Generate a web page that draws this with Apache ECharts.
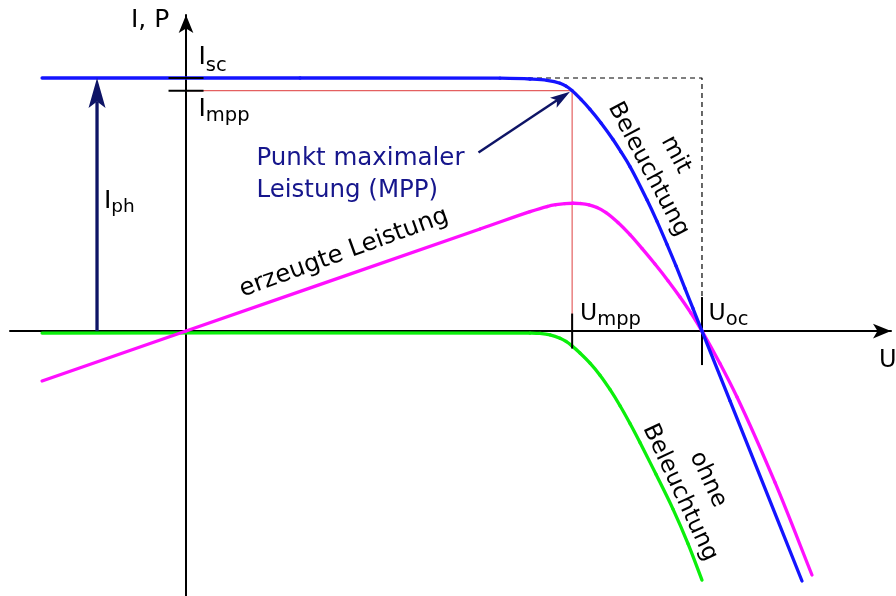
<!DOCTYPE html>
<html>
<head>
<meta charset="utf-8">
<script src="https://cdn.jsdelivr.net/npm/echarts@6/dist/echarts.min.js"></script>
<style>
  html, body { margin: 0; padding: 0; background: #fff; }
  #chart { width: 896px; height: 596px; }
</style>
</head>
<body>
<div id="chart"></div>
<script>
// Characteristic points of the cell
const U_OC = 0.60;   // open-circuit voltage
const U_MPP = 0.449; // voltage at maximum power point
const I_SC = 1.0;    // short-circuit current
const I_MPP = 0.95;  // current at maximum power point

// I-U curve with illumination
const uIllum = [-0.1674, 0.1326, 0.3651, 0.40, 0.4198, 0.4349, 0.4419, 0.4488, 0.4593, 0.4698, 0.4826, 0.4965, 0.5058, 0.5163, 0.536, 0.5477, 0.5593, 0.5698, 0.5802, 0.5895, 0.60, 0.6326, 0.7163];
const iIllum = [1.0, 1.0, 0.9992, 0.996, 0.9909, 0.9794, 0.968, 0.9506, 0.9154, 0.8763, 0.8225, 0.7569, 0.7083, 0.6498, 0.5186, 0.4336, 0.3427, 0.2573, 0.1684, 0.0893, 0.0, -0.2763, -0.9877];

// I-U curve without illumination (dark diode curve)
const uDark = [-0.1674, 0.40, 0.4116, 0.4233, 0.4349, 0.4419, 0.4488, 0.4581, 0.4698, 0.4814, 0.493, 0.5047, 0.5163, 0.5279, 0.5465, 0.5663, 0.5837, 0.60];
const iDark = [-0.0079, -0.0079, -0.0095, -0.015, -0.0281, -0.0411, -0.0585, -0.0866, -0.1269, -0.1743, -0.2308, -0.2953, -0.3656, -0.4407, -0.566, -0.7036, -0.8399, -0.9842];

// generated power
const uPower = [-0.1674, 0, 0.3419, 0.40, 0.4198, 0.4302, 0.4407, 0.45, 0.4593, 0.4686, 0.4779, 0.4884, 0.5023, 0.5163, 0.5302, 0.5453, 0.5605, 0.5744, 0.5872, 0.60, 0.6209, 0.6407, 0.6849, 0.7279];
const pPower = [-0.1976, 0, 0.4032, 0.4719, 0.4921, 0.4992, 0.5036, 0.5051, 0.504, 0.4988, 0.4881, 0.4684, 0.4292, 0.381, 0.3265, 0.2648, 0.1992, 0.1348, 0.0711, 0, -0.1281, -0.2605, -0.5984, -0.964];

// photocurrent arrow position and MPP pointer start
const U_IPH = -0.1035;
const mppPointerFrom = [0.3401, 0.7055];

const zip = (xs, ys) => xs.map((x, i) => [x, ys[i]]);

const FONT = '"DejaVu Sans", Verdana, sans-serif';
const NAVY = '#0e1466';
const NAVY_TEXT = '#16168c';

const chart = echarts.init(document.getElementById('chart'), null, { renderer: 'canvas' });

// smooth curve through the points: each item draws the cubic segment to the next point
// (centripetal Catmull-Rom, converted to Bezier control points in pixel space)
function splineSeries(name, xs, ys, color, width) {
  const pts = zip(xs, ys);
  const n = pts.length;
  return {
    type: 'custom', name: name, data: pts, z: 2, clip: true,
    renderItem: function (params, api) {
      const i = params.dataIndex;
      if (i >= n - 1) return null;
      const p1 = api.coord(pts[i]);
      const p2 = api.coord(pts[i + 1]);
      const p0 = i > 0 ? api.coord(pts[i - 1]) : [2 * p1[0] - p2[0], 2 * p1[1] - p2[1]];
      const p3 = i < n - 2 ? api.coord(pts[i + 2]) : [2 * p2[0] - p1[0], 2 * p2[1] - p1[1]];
      const d = (a, b) => Math.max(1e-6, Math.sqrt(Math.hypot(b[0] - a[0], b[1] - a[1])));
      const d1 = d(p0, p1), d2 = d(p1, p2), d3 = d(p2, p3);
      const c1 = [0, 1].map(k => (d1 * d1 * p2[k] - d2 * d2 * p0[k] + (2 * d1 * d1 + 3 * d1 * d2 + d2 * d2) * p1[k]) / (3 * d1 * (d1 + d2)));
      const c2 = [0, 1].map(k => (d3 * d3 * p1[k] - d2 * d2 * p3[k] + (2 * d3 * d3 + 3 * d3 * d2 + d2 * d2) * p2[k]) / (3 * d3 * (d3 + d2)));
      return {
        type: 'bezierCurve',
        shape: { x1: p1[0], y1: p1[1], x2: p2[0], y2: p2[1], cpx1: c1[0], cpy1: c1[1], cpx2: c2[0], cpy2: c2[1] },
        style: { stroke: color, lineWidth: width, fill: null, lineCap: 'round' }
      };
    }
  };
}

// arrow drawn in pixel space between two data points
function arrowRenderer(headLen, headWidth, lineWidth, color) {
  return function (params, api) {
    const p1 = api.coord([api.value(0), api.value(1)]);
    const p2 = api.coord([api.value(2), api.value(3)]);
    const dx = p2[0] - p1[0], dy = p2[1] - p1[1];
    const len = Math.hypot(dx, dy);
    const ux = dx / len, uy = dy / len;
    const nx = -uy, ny = ux;
    const bx = p2[0] - ux * headLen, by = p2[1] - uy * headLen;
    const notch = [p2[0] - ux * headLen * 0.78, p2[1] - uy * headLen * 0.78];
    return {
      type: 'group',
      children: [
        { type: 'line', shape: { x1: p1[0], y1: p1[1], x2: notch[0], y2: notch[1] },
          style: { stroke: color, lineWidth: lineWidth } },
        { type: 'polygon', shape: { points: [
            [p2[0], p2[1]],
            [bx + nx * headWidth / 2, by + ny * headWidth / 2],
            notch,
            [bx - nx * headWidth / 2, by - ny * headWidth / 2]
          ] }, style: { fill: color } }
      ]
    };
  };
}

// short black tick across an axis
function tickRenderer(half, horizontal) {
  return function (params, api) {
    const p = api.coord([api.value(0), api.value(1)]);
    const shape = horizontal
      ? { x1: p[0] - half, y1: p[1], x2: p[0] + half, y2: p[1] }
      : { x1: p[0], y1: p[1] - half, x2: p[0], y2: p[1] + half };
    return { type: 'line', shape: shape, style: { stroke: '#000', lineWidth: 2 } };
  };
}

const option = {
  animation: false,
  backgroundColor: '#fff',
  grid: { left: 10, right: 5, top: 15, bottom: 0, containLabel: false, outerBoundsMode: 'none' },
  xAxis: {
    type: 'value', min: -0.2047, max: 0.8198,
    axisLine: { onZero: true, symbol: ['none', 'arrow'], symbolSize: [11, 18],
                lineStyle: { color: '#000', width: 2 } },
    axisTick: { show: false }, axisLabel: { show: false }, splitLine: { show: false }
  },
  yAxis: {
    type: 'value', min: -1.047, max: 1.249,
    axisLine: { onZero: true, symbol: ['none', 'arrow'], symbolSize: [11, 18],
                lineStyle: { color: '#000', width: 2 } },
    axisTick: { show: false }, axisLabel: { show: false }, splitLine: { show: false }
  },
  series: [
    { // dashed rectangle edge to Isc / Uoc
      type: 'line', data: [[0, I_SC], [U_OC, I_SC], [U_OC, 0]], showSymbol: false, z: 1,
      lineStyle: { color: '#000', width: 1.2, type: [5, 4] }, silent: true
    },
    { // MPP guide lines
      type: 'line', data: [[0, I_MPP], [U_MPP, I_MPP], [U_MPP, 0]], showSymbol: false, z: 1,
      lineStyle: { color: '#e46060', width: 1.2 }, silent: true
    },
    splineSeries('ohne Beleuchtung', uDark, iDark, '#0bef0b', 3.3),
    splineSeries('erzeugte Leistung', uPower, pPower, '#ff0fff', 3.3),
    splineSeries('mit Beleuchtung', uIllum, iIllum, '#1414ff', 3.3),
    { type: 'custom', renderItem: tickRenderer(17.5, true), data: [[0, I_SC], [0, I_MPP]], z: 4, clip: false },
    { type: 'custom', renderItem: tickRenderer(17.5, false), data: [[U_MPP, 0]], z: 4, clip: false },
    { type: 'custom', renderItem: tickRenderer(34, false), data: [[U_OC, 0]], z: 1, clip: false },
    { type: 'custom', renderItem: arrowRenderer(30, 17, 3.3, NAVY),
      data: [[U_IPH, 0, U_IPH, I_SC]], encode: { x: [0, 2], y: [1, 3] }, z: 5, clip: false },
    { type: 'custom', renderItem: arrowRenderer(20, 12, 2.5, NAVY),
      data: [[mppPointerFrom[0], mppPointerFrom[1], U_MPP - 0.0025, I_MPP - 0.004]],
      encode: { x: [0, 2], y: [1, 3] }, z: 5, clip: false }
  ]
};
chart.setOption(option);

// text placement helpers (baseline-based)
const measureCtx = document.createElement('canvas').getContext('2d');
function textWidth(t, size) { measureCtx.font = size + 'px ' + FONT; return measureCtx.measureText(t).width; }
function txt(x, baseline, t, size, color) {
  return { type: 'text', x: x, y: baseline - 0.346 * size, z: 10,
    style: { text: t, fontSize: size, fontFamily: FONT, fill: color || '#000',
             align: 'left', textAlign: 'left', verticalAlign: 'middle', textVerticalAlign: 'middle' } };
}
function subLabel(x, baseline, main, sub, size, subSize, subDrop, color) {
  return [txt(x, baseline, main, size, color),
          txt(x + textWidth(main, size), baseline + subDrop, sub, subSize, color)];
}
function rotated(cx, cy, t, size, deg, lh, color) {
  return { type: 'text', x: cx, y: cy, rotation: deg * Math.PI / 180, z: 10,
    style: { text: t, fontSize: size, fontFamily: FONT, fill: color || '#000', lineHeight: lh,
             align: 'center', textAlign: 'center', verticalAlign: 'middle', textVerticalAlign: 'middle' } };
}

const elements = [].concat(
  [txt(131, 29.5, 'I, P', 25)],
  [txt(879, 369.3, 'U', 24)],
  subLabel(198.5, 66, 'I', 'sc', 25, 19.5, 6.5),
  subLabel(198.5, 118.3, 'I', 'mpp', 25, 19.5, 4),
  subLabel(104, 210.5, 'I', 'ph', 25, 18.5, 3.5),
  subLabel(580, 321.7, 'U', 'mpp', 23.5, 19.5, 5),
  subLabel(708.5, 321.7, 'U', 'oc', 23.5, 19.5, 5),
  [txt(256.5, 167, 'Punkt maximaler', 24.5, NAVY_TEXT),
   txt(256.5, 199.5, 'Leistung (MPP)', 24.5, NAVY_TEXT)],
  [rotated(344, 253, 'erzeugte Leistung', 24.5, 20, 28),
   rotated(662, 162, 'mit\nBeleuchtung', 23.5, -62, 31),
   rotated(694, 486, 'ohne\nBeleuchtung', 23.5, -65, 31)]
);
chart.setOption({ graphic: { elements: elements } });
</script>
</body>
</html>
